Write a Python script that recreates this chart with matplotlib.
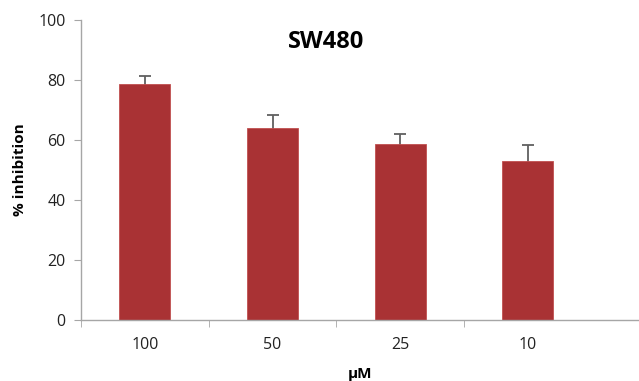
import matplotlib.pyplot as plt
import numpy as np

plt.rcParams['font.family'] = ['Open Sans', 'DejaVu Sans']

concentrations = ['100', '50', '25', '10']
inhibition = [78.7, 64.1, 58.7, 52.9]
inhibition_err = [2.7, 4.2, 3.3, 5.4]

bar_color = '#A93234'
axis_grey = '#A6A6A6'

fig = plt.figure(figsize=(6.39, 3.81), dpi=100)
ax = fig.add_axes([81 / 639, 1 - 320 / 381, 1 - 81 / 639, 300 / 381])

x = np.arange(len(concentrations))
# error bars sit under the bars so only the upper half shows
ax.errorbar(x, inhibition, yerr=inhibition_err, fmt='none',
            ecolor='#606060', elinewidth=1.3, capsize=4, capthick=1.3, zorder=1)
ax.bar(x, inhibition, width=0.4, color=bar_color, edgecolor='#C05050', linewidth=0.6, zorder=2)

ax.set_ylim(0, 100)
ax.set_yticks(np.arange(0, 101, 20))
ax.set_xlim(-0.5, 3.87)

# category labels centred on bars, ticks sit between the categories
ax.set_xticks(x)
ax.set_xticklabels(concentrations)
ax.set_xticks(np.arange(-0.5, 3.0, 1.0), minor=True)
ax.tick_params(axis='x', which='major', length=0, pad=12, labelsize=11.5, colors='#222222')
ax.tick_params(axis='x', which='minor', length=5, color=axis_grey, direction='out')
ax.tick_params(axis='y', length=5, color=axis_grey, direction='out', labelsize=11.5,
               labelcolor='#222222', pad=6)

for side in ['top', 'right']:
    ax.spines[side].set_visible(False)
for side in ['left', 'bottom']:
    ax.spines[side].set_color(axis_grey)
    ax.spines[side].set_linewidth(1.0)

ax.set_ylabel('% inhibition', fontsize=11, fontweight='bold', labelpad=8)
ax.set_xlabel('µM', fontsize=11, fontweight='bold', labelpad=10)
ax.set_title('SW480', fontsize=17, fontweight='bold', y=0.88, x=0.44)

fig.savefig('out.png', dpi=100)
